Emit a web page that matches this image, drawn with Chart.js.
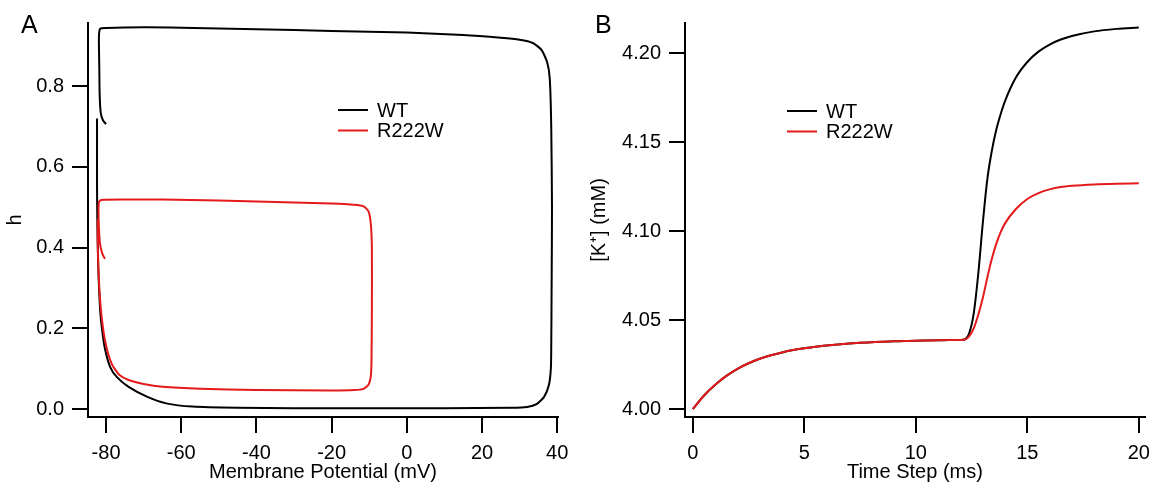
<!DOCTYPE html>
<html><head><meta charset="utf-8">
<script src="https://cdn.jsdelivr.net/npm/chart.js@4/dist/chart.umd.min.js"></script>
<style>
html,body{margin:0;padding:0;background:#fff;width:1158px;height:485px;overflow:hidden;}
.panel{position:absolute;top:0;height:485px;}
#pA{left:0;width:580px;} #pB{left:580px;width:578px;}
.lbl{position:absolute;font-family:"Liberation Sans",Arial,Helvetica,sans-serif;font-size:25px;line-height:25px;color:#000;}
</style></head><body>
<div class="panel" id="pA"><canvas id="cA" width="580" height="485"></canvas></div>
<div class="panel" id="pB"><canvas id="cB" width="578" height="485"></canvas></div>
<div class="lbl" style="left:21px;top:12px">A</div>
<div class="lbl" style="left:595px;top:12px">B</div>
<script>
// ---------- Panel A: h vs membrane potential (phase plane) ----------
const wtV = [-80.0,-80.8,-81.4,-81.7,-81.8,-81.9,-81.6,-80,-70,-60,-40,-20,0,15,25,30,33.5,35.8,37.3,38.0,38.4,38.6,38.5,38.4,38.3,37.8,36.5,34.5,32,28,10,-10,-30,-45,-57,-64,-69,-74,-77.1,-78.9,-80.3,-81.1,-81.6,-82.1,-82.3,-82.4,-82.4,-82.4];
const wtH = [0.706,0.715,0.733,0.78,0.85,0.92,0.942,0.944,0.946,0.945,0.941,0.937,0.933,0.927,0.920,0.915,0.907,0.89,0.86,0.82,0.7,0.5,0.3,0.15,0.1,0.06,0.03,0.012,0.005,0.003,0.002,0.002,0.002,0.003,0.006,0.014,0.03,0.055,0.079,0.104,0.15,0.20,0.25,0.36,0.45,0.55,0.65,0.72];
const mutV = [-80.3,-81.0,-81.6,-81.9,-82.0,-81.9,-81.3,-75,-65,-50,-35,-20,-14,-11.5,-10.2,-9.6,-9.3,-9.3,-9.4,-9.6,-10.2,-11.5,-14,-20,-40,-55,-65,-70,-74,-76.5,-78.4,-79.8,-80.8,-81.5,-82.0,-82.2,-82.2];
const mutH = [0.372,0.385,0.41,0.45,0.49,0.513,0.518,0.519,0.519,0.517,0.513,0.509,0.506,0.502,0.49,0.46,0.40,0.25,0.12,0.08,0.06,0.05,0.047,0.046,0.047,0.050,0.055,0.062,0.072,0.085,0.11,0.15,0.20,0.26,0.34,0.42,0.47];
const xTicksA = [-80,-60,-40,-20,0,20,40];
const xTickLabelsA = ['-80','-60','-40','-20','0','20','40'];
const yTicksA = [0,0.2,0.4,0.6,0.8];
const yTickLabelsA = ['0.0','0.2','0.4','0.6','0.8'];

// ---------- Panel B: [K+] vs time ----------
const timeB = [0,0.5,1,1.5,2,2.5,3,3.5,4,4.5,5,5.5,6,6.5,7,7.5,8,8.5,9,9.5,10,10.5,11,11.5,12,12.2,12.4,12.6,12.8,13,13.2,13.4,13.6,13.8,14,14.5,15,15.5,16,16.5,17,18,19,20];
const kWT = [4.0000,4.0076,4.0136,4.0186,4.0226,4.0257,4.0282,4.0302,4.0318,4.0331,4.0341,4.0350,4.0357,4.0363,4.0368,4.0372,4.0375,4.0378,4.0380,4.0382,4.0384,4.0385,4.0386,4.0387,4.0388,
  4.0392,4.0428,4.0540,4.0760,4.1040,4.1285,4.1445,4.1565,4.1655,4.1730,4.1865,4.1950,4.2008,4.2048,4.2076,4.2096,4.2122,4.2136,4.2144];
const kR222W = [4.0000,4.0076,4.0136,4.0186,4.0226,4.0257,4.0282,4.0302,4.0318,4.0331,4.0341,4.0350,4.0357,4.0363,4.0368,4.0372,4.0375,4.0378,4.0380,4.0382,4.0384,4.0385,4.0386,4.0387,4.0388,
  4.0390,4.0410,4.0455,4.0530,4.0622,4.0735,4.0840,4.0925,4.0992,4.1043,4.1125,4.1180,4.1213,4.1234,4.1247,4.1254,4.1262,4.1266,4.1268];
const xTicksB = [0,5,10,15,20];
const xTickLabelsB = ['0','5','10','15','20'];
const yTicksB = [4.00,4.05,4.10,4.15,4.20];
const yTickLabelsB = ['4.00','4.05','4.10','4.15','4.20'];

const seriesNames = ['WT','R222W'];
const seriesColors = ['#000000','rgb(228,26,28)'];

Chart.defaults.font.family = '"Liberation Sans", Arial, Helvetica, sans-serif';
Chart.defaults.color = '#000';

const inlineLegend = {
  id: 'inlineLegend',
  afterDatasetsDraw(chart, args, opts) {
    const {ctx, chartArea} = chart;
    ctx.save();
    ctx.font = '20px "Liberation Sans", Arial, Helvetica, sans-serif';
    ctx.textBaseline = 'middle';
    ctx.textAlign = 'left';
    chart.data.datasets.forEach((ds, i) => {
      const y = chartArea.top + opts.y + i * opts.rowGap;
      const x0 = chartArea.left + opts.x;
      ctx.strokeStyle = ds.borderColor;
      ctx.lineWidth = 2;
      ctx.beginPath(); ctx.moveTo(x0, y); ctx.lineTo(x0 + opts.lineLen, y); ctx.stroke();
      ctx.fillStyle = '#000';
      ctx.fillText(ds.label, x0 + opts.lineLen + opts.gap, y + 1);
    });
    ctx.restore();
  }
};

function labelFor(ticks, labels) {
  return (v) => {
    const i = ticks.findIndex(t => Math.abs(t - v) < 1e-9);
    return i >= 0 ? labels[i] : '';
  };
}

function axis(o) {
  return {
    type: 'linear',
    min: o.min, max: o.max,
    afterBuildTicks: (s) => { s.ticks = o.ticks.map(v => ({value: v})); },
    afterFit: o.afterFit,
    grid: {drawOnChartArea: false, drawTicks: true, tickLength: 16, color: '#000', lineWidth: 2},
    border: {display: true, color: '#000', width: 2},
    ticks: {padding: 8, color: '#000', font: {size: 20}, maxRotation: 0, autoSkip: false,
            callback: labelFor(o.ticks, o.labels)},
    title: {display: true, text: o.title, color: '#000', font: {size: 20}, padding: o.titlePad}
  };
}

function makeChart(id, datasets, cfg) {
  return new Chart(document.getElementById(id), {
    type: 'line',
    data: {datasets},
    plugins: [inlineLegend],
    options: {
      responsive: false, animation: false, devicePixelRatio: 1,
      layout: {autoPadding: false, padding: {left: 0, right: cfg.padRight, top: 23, bottom: 0}},
      plugins: {legend: {display: false}, tooltip: {enabled: false},
                inlineLegend: {x: cfg.legX, y: cfg.legY, rowGap: 20.5, lineLen: 30, gap: 9}},
      scales: {
        x: axis({min: cfg.xMin, max: cfg.xMax, ticks: cfg.xTicks, labels: cfg.xLabels, title: cfg.xTitle,
                 titlePad: {top: 0, bottom: 1}, afterFit: (s) => { s.height = 68; }}),
        y: axis({min: cfg.yMin, max: cfg.yMax, ticks: cfg.yTicks, labels: cfg.yLabels, title: cfg.yTitle,
                 titlePad: {top: cfg.yTitlePad, bottom: 0}, afterFit: (s) => { s.width = cfg.yWidth; }})
      }
    }
  });
}

function lineDs(label, color, xs, ys, order, mono) {
  const ds = {label, borderColor: color, backgroundColor: color, borderWidth: 2, pointRadius: 0,
          tension: 0.2, fill: false, order, data: xs.map((x, i) => ({x, y: ys[i]}))};
  if (mono) ds.cubicInterpolationMode = 'monotone';
  return ds;
}

makeChart('cA', [
  lineDs(seriesNames[0], seriesColors[0], wtV, wtH, 2, false),
  lineDs(seriesNames[1], seriesColors[1], mutV, mutH, 1, false)
], {xMin: -84.8, xMax: 40.2, yMin: -0.0198, yMax: 0.9566, xTicks: xTicksA, xLabels: xTickLabelsA,
    yTicks: yTicksA, yLabels: yTickLabelsA, xTitle: 'Membrane Potential (mV)', yTitle: 'h',
    yWidth: 88, padRight: 22, yTitlePad: 3.5, legX: 250, legY: 87});

makeChart('cB', [
  lineDs(seriesNames[0], seriesColors[0], timeB, kWT, 2, true),
  lineDs(seriesNames[1], seriesColors[1], timeB, kR222W, 1, true)
], {xMin: -0.355, xMax: 20.27, yMin: 3.9955, yMax: 4.2169, xTicks: xTicksB, xLabels: xTickLabelsB,
    yTicks: yTicksB, yLabels: yTickLabelsB, xTitle: 'Time Step (ms)', yTitle: '[K\u207A] (mM)',
    yWidth: 105, padRight: 8, yTitlePad: 7, legX: 102, legY: 88});
</script>
</body></html>
